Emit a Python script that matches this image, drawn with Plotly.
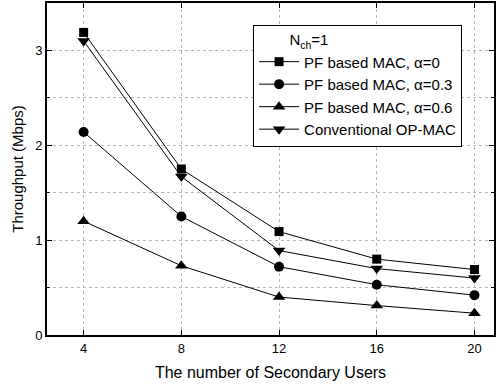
import plotly.graph_objects as go

users = [4, 8, 12, 16, 20]
pf_a0 = [3.19, 1.75, 1.09, 0.80, 0.69]
pf_a03 = [2.14, 1.25, 0.72, 0.53, 0.42]
pf_a06 = [1.20, 0.73, 0.40, 0.31, 0.23]
op_mac = [3.10, 1.67, 0.89, 0.70, 0.60]

series = [
    ("PF based MAC, \u03b1=0", pf_a0, "square", 9),
    ("PF based MAC, \u03b1=0.3", pf_a03, "circle", 10),
    ("PF based MAC, \u03b1=0.6", pf_a06, "triangle-up", 11),
    ("Conventional OP-MAC", op_mac, "triangle-down", 11),
]

fig = go.Figure()
for name, ys, sym, sz in series:
    fig.add_trace(go.Scatter(
        x=users, y=ys, name=name, mode="lines+markers",
        line=dict(color="black", width=1),
        marker=dict(symbol=sym, size=sz, color="black"),
    ))

font = "Liberation Sans, Arial, sans-serif"
fig.update_layout(
    width=497, height=389,
    margin=dict(l=47, r=1, t=1, b=54),
    paper_bgcolor="white", plot_bgcolor="white",
    font=dict(family=font, size=13, color="black"),
    showlegend=True,
    legend=dict(
        x=0.461, y=0.934, xanchor="left", yanchor="top",
        bgcolor="white", bordercolor="black", borderwidth=1,
        font=dict(size=15, family=font),
        itemwidth=40, tracegroupgap=0,
        title=dict(text="\u00a0" * 8 + "N<sub>ch</sub>=1", font=dict(size=15, family=font)),
    ),
    xaxis=dict(
        range=[2.5, 20.8], tickvals=users, ticktext=[str(u) for u in users],
        showline=True, linecolor="black", linewidth=2, mirror="ticks",
        ticks="inside", ticklen=5, tickcolor="black",
        showgrid=True, gridcolor="#b8b8b8", griddash="dot", gridwidth=1,
        zeroline=False,
        title=dict(text="The number of Secondary Users", font=dict(size=16), standoff=12),
        tickfont=dict(size=13),
    ),
    yaxis=dict(
        range=[0, 3.5], tickvals=[0, 1, 2, 3],
        showline=True, linecolor="black", linewidth=2, mirror="ticks",
        ticks="inside", ticklen=5, tickcolor="black",
        showgrid=True, gridcolor="#b8b8b8", griddash="dot", gridwidth=1,
        minor=dict(tickvals=[0.5, 1.5, 2.5], ticks="inside", ticklen=3, tickcolor="black",
                   showgrid=True, gridcolor="#b8b8b8", griddash="dot", gridwidth=1),
        zeroline=False,
        title=dict(text="Throughput (Mbps)", font=dict(size=15), standoff=8),
        tickfont=dict(size=13),
    ),
)

fig.write_html(
    "out.html",
    config={"displayModeBar": False},
    post_script="document.body.style.margin='0';document.body.style.padding='0';document.body.style.overflow='hidden';",
)
